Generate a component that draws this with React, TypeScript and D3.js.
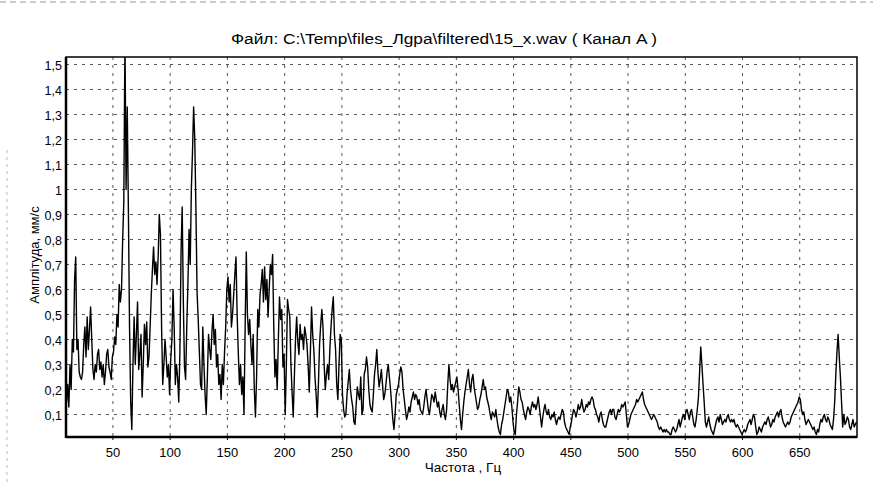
import * as d3 from 'd3';

// spectrum bins: START_HZ + i * STEP_HZ
const START_HZ = 9.5;
const STEP_HZ = 1;

const amp009 = [
  0.15, 0.22, 0.13, 0.30, 0.20, 0.40, 0.35, 0.64, 0.73, 0.36,
  0.40, 0.27, 0.25, 0.24, 0.27, 0.38, 0.45, 0.33, 0.49, 0.36,
  0.44, 0.53, 0.40, 0.28, 0.24, 0.30, 0.27, 0.34, 0.36, 0.28,
  0.31, 0.25, 0.30, 0.22, 0.27, 0.34, 0.36, 0.29, 0.27, 0.24,
  0.33, 0.35, 0.41, 0.38, 0.50, 0.45, 0.62, 0.55, 0.60, 0.80,
  0.95, 1.60, 1.00, 1.33, 0.92, 0.45, 0.15, 0.04, 0.30, 0.49,
  0.30, 0.42, 0.55, 0.28, 0.34, 0.42, 0.17, 0.30, 0.46, 0.38,
  0.47, 0.29, 0.33, 0.45, 0.58, 0.68, 0.77, 0.66, 0.71, 0.62,
  0.73, 0.90, 0.82, 0.45, 0.22, 0.30, 0.40, 0.33, 0.25, 0.30,
  0.18,
];
const amp100 = [
  0.32, 0.40, 0.60, 0.45, 0.22, 0.30, 0.25, 0.15, 0.35, 0.75,
  0.93, 0.55, 0.29, 0.24, 0.45, 0.62, 0.84, 0.70, 1.00, 1.15,
  1.33, 1.20, 0.92, 0.59, 0.48, 0.35, 0.22, 0.20, 0.45, 0.30,
  0.18, 0.10, 0.25, 0.42, 0.36, 0.32, 0.43, 0.50, 0.38, 0.44,
  0.29, 0.34, 0.22, 0.26, 0.16, 0.30, 0.22, 0.35, 0.45, 0.60,
  0.65, 0.55, 0.62, 0.45, 0.50, 0.58, 0.66, 0.73, 0.50, 0.35,
  0.22, 0.30, 0.18, 0.25, 0.10, 0.45, 0.75, 0.50, 0.42, 0.48,
  0.38, 0.30, 0.42, 0.20, 0.09, 0.25, 0.52, 0.45, 0.58, 0.62,
  0.68, 0.55, 0.69, 0.56, 0.64, 0.49, 0.60, 0.70, 0.66, 0.74,
  0.45, 0.25, 0.32, 0.20, 0.40, 0.57, 0.48, 0.52, 0.29, 0.34,
];
const amp200 = [
  0.10, 0.30, 0.56, 0.52, 0.49, 0.30, 0.19, 0.09, 0.25, 0.40,
  0.49, 0.39, 0.34, 0.46, 0.40, 0.42, 0.36, 0.45, 0.42, 0.38,
  0.30, 0.19, 0.35, 0.53, 0.42, 0.36, 0.25, 0.18, 0.09, 0.22,
  0.38, 0.46, 0.52, 0.45, 0.30, 0.20, 0.26, 0.30, 0.24, 0.36,
  0.45, 0.52, 0.57, 0.42, 0.36, 0.22, 0.16, 0.30, 0.42, 0.40,
  0.18, 0.12, 0.09, 0.10, 0.18, 0.23, 0.28, 0.20, 0.16, 0.13,
  0.07, 0.06, 0.14, 0.21, 0.18, 0.16, 0.25, 0.10, 0.12, 0.26,
  0.28, 0.33, 0.29, 0.20, 0.14, 0.12, 0.11, 0.18, 0.26, 0.30,
  0.36, 0.27, 0.21, 0.24, 0.28, 0.22, 0.16, 0.18, 0.22, 0.27,
  0.30, 0.25, 0.20, 0.14, 0.08, 0.04, 0.10, 0.18, 0.20, 0.22,
];
const amp300 = [
  0.26, 0.29, 0.27, 0.20, 0.16, 0.12, 0.08, 0.10, 0.13, 0.11,
  0.15, 0.17, 0.19, 0.16, 0.18, 0.17, 0.14, 0.16, 0.12, 0.11,
  0.10, 0.13, 0.17, 0.20, 0.16, 0.12, 0.10, 0.14, 0.18, 0.17,
  0.15, 0.19, 0.16, 0.13, 0.15, 0.11, 0.09, 0.12, 0.14, 0.10,
  0.08, 0.12, 0.22, 0.30, 0.24, 0.20, 0.22, 0.19, 0.21, 0.23,
  0.25, 0.20, 0.14, 0.08, 0.04, 0.10, 0.15, 0.19, 0.22, 0.25,
  0.28, 0.22, 0.19, 0.24, 0.26, 0.21, 0.18, 0.15, 0.12, 0.13,
  0.16, 0.18, 0.21, 0.24, 0.20, 0.21, 0.17, 0.15, 0.13, 0.10,
  0.08, 0.11, 0.10, 0.09, 0.12, 0.08, 0.05, 0.03, 0.02, 0.06,
  0.08, 0.11, 0.14, 0.17, 0.20, 0.19, 0.15, 0.17, 0.13, 0.07,
];
const amp400 = [
  0.03, 0.02, 0.10, 0.15, 0.21, 0.19, 0.16, 0.15, 0.12, 0.10,
  0.08, 0.11, 0.13, 0.12, 0.10, 0.13, 0.15, 0.13, 0.14, 0.12,
  0.14, 0.17, 0.13, 0.09, 0.05, 0.09, 0.12, 0.14, 0.11, 0.10,
  0.12, 0.09, 0.08, 0.10, 0.09, 0.11, 0.08, 0.06, 0.08, 0.09,
  0.08, 0.10, 0.12, 0.11, 0.07, 0.05, 0.04, 0.03, 0.02, 0.05,
  0.07, 0.10, 0.12, 0.11, 0.09, 0.11, 0.14, 0.12, 0.13, 0.16,
  0.13, 0.11, 0.12, 0.14, 0.13, 0.15, 0.14, 0.16, 0.17, 0.16,
  0.13, 0.12, 0.10, 0.09, 0.07, 0.10, 0.11, 0.08, 0.06, 0.05,
  0.05, 0.07, 0.09, 0.11, 0.12, 0.10, 0.12, 0.12, 0.09, 0.08,
  0.10, 0.12, 0.11, 0.12, 0.14, 0.13, 0.14, 0.15, 0.10, 0.05,
];
const amp500 = [
  0.06, 0.08, 0.10, 0.11, 0.12, 0.13, 0.14, 0.16, 0.15, 0.16,
  0.17, 0.18, 0.19, 0.16, 0.14, 0.13, 0.12, 0.11, 0.10, 0.09,
  0.08, 0.09, 0.10, 0.09, 0.08, 0.07, 0.05, 0.04, 0.05, 0.04,
  0.03, 0.04, 0.03, 0.04, 0.03, 0.03, 0.02, 0.02, 0.04, 0.05,
  0.04, 0.03, 0.04, 0.06, 0.08, 0.05, 0.07, 0.09, 0.10, 0.08,
  0.11, 0.12, 0.10, 0.08, 0.11, 0.12, 0.09, 0.06, 0.05, 0.08,
  0.12, 0.17, 0.27, 0.37, 0.30, 0.22, 0.15, 0.07, 0.05, 0.07,
  0.09, 0.06, 0.04, 0.03, 0.02, 0.04, 0.06, 0.08, 0.09, 0.07,
  0.10, 0.08, 0.06, 0.07, 0.08, 0.07, 0.09, 0.10, 0.08, 0.07,
  0.08, 0.07, 0.08, 0.06, 0.05, 0.06, 0.05, 0.04, 0.03, 0.02,
];
const amp600 = [
  0.03, 0.04, 0.03, 0.04, 0.06, 0.07, 0.08, 0.06, 0.08, 0.10,
  0.09, 0.05, 0.02, 0.03, 0.05, 0.04, 0.03, 0.05, 0.06, 0.07,
  0.06, 0.08, 0.09, 0.07, 0.05, 0.06, 0.08, 0.07, 0.09, 0.10,
  0.11, 0.09, 0.11, 0.12, 0.09, 0.07, 0.06, 0.05, 0.06, 0.07,
  0.06, 0.07, 0.09, 0.10, 0.11, 0.12, 0.13, 0.14, 0.15, 0.17,
  0.16, 0.12, 0.10, 0.11, 0.08, 0.06, 0.07, 0.08, 0.07, 0.06,
  0.05, 0.04, 0.05, 0.03, 0.02, 0.04, 0.03, 0.06, 0.08, 0.07,
  0.09, 0.10, 0.08, 0.07, 0.09, 0.08, 0.06, 0.05, 0.04, 0.08,
  0.15, 0.26, 0.35, 0.42, 0.33, 0.25, 0.15, 0.05, 0.10, 0.06,
  0.07, 0.09, 0.08, 0.05, 0.04, 0.06, 0.08, 0.05, 0.06, 0.07,
];

const xTicks = [50, 100, 150, 200, 250, 300, 350, 400, 450, 500, 550, 600, 650];
const yTicks = [0.1, 0.2, 0.3, 0.4, 0.5, 0.6, 0.7, 0.8, 0.9, 1.0, 1.1, 1.2, 1.3, 1.4, 1.5];

const TITLE = 'Файл: C:\\Temp\\files_Лgpa\\filtered\\15_x.wav ( Канал A )';
const X_LABEL = 'Частота , Гц';
const Y_LABEL = 'Амплітуда, мм/с';

const W = 873;
const H = 483;
const margin = { top: 57, right: 16, bottom: 46, left: 66 };
const FONT = '"Liberation Sans", Arial, sans-serif';

const amps = [...amp009, ...amp100, ...amp200, ...amp300, ...amp400, ...amp500, ...amp600];
const spectrum: [number, number][] = amps.map((a, i) => [START_HZ + i * STEP_HZ, a]);

const fmt = (v: number) => (v === 1 ? '1' : d3.format('.1f')(v).replace('.', ','));

export default function App() {
  const x = d3.scaleLinear().domain([9, 700]).range([margin.left, W - margin.right]);
  const y = d3.scaleLinear().domain([0.01, 1.53]).range([H - margin.bottom, margin.top]);
  const [x0, x1] = x.range();
  const [y0, y1] = y.range();

  const line = d3
    .line<[number, number]>()
    .x(d => x(d[0]))
    .y(d => y(d[1]));

  return (
    <svg
      width={W}
      height={H}
      style={{ position: 'absolute', left: 0, top: 0, background: '#fff' }}
      fontFamily={FONT}
    >
      <defs>
        <clipPath id="plot">
          <rect x={x0} y={y1} width={x1 - x0} height={y0 - y1} />
        </clipPath>
      </defs>

      {/* faint scan borders */}
      <line x1={0} x2={W} y1={2} y2={2} stroke="#999" strokeDasharray="6,4" />
      <line x1={7} x2={7} y1={150} y2={H} stroke="#bbb" strokeDasharray="3,4" />

      <text x={444} y={44} textAnchor="middle" fontSize={14} textLength={426} lengthAdjust="spacingAndGlyphs">
        {TITLE}
      </text>

      {/* grid */}
      <g stroke="#555" strokeWidth={1} strokeDasharray="3,5">
        {yTicks.map(t => (
          <line key={'gy' + t} x1={x0} x2={x1} y1={y(t)} y2={y(t)} />
        ))}
        {xTicks.map(t => (
          <line key={'gx' + t} x1={x(t)} x2={x(t)} y1={y1} y2={y0} />
        ))}
      </g>

      <path
        d={line(spectrum) ?? ''}
        fill="none"
        stroke="#000"
        strokeWidth={1.4}
        strokeLinejoin="round"
        clipPath="url(#plot)"
      />

      {/* frame */}
      <rect x={x0} y={y1} width={x1 - x0} height={y0 - y1} fill="none" stroke="#000" strokeWidth={1.5} />
      <line x1={x0} x2={x0} y1={y1} y2={y0 + 1} stroke="#000" strokeWidth={2.5} />
      <line x1={x0} x2={x1} y1={y0} y2={y0} stroke="#000" strokeWidth={2.5} />

      {/* y axis */}
      <g fontSize={12.5} textAnchor="end">
        {yTicks.map(t => (
          <text key={'ty' + t} x={x0 - 4} y={y(t) + 5}>
            {fmt(t)}
          </text>
        ))}
      </g>
      {/* x axis */}
      <g fontSize={13} textAnchor="middle">
        {xTicks.map(t => (
          <g key={'tx' + t}>
            <line x1={x(t)} x2={x(t)} y1={y0} y2={y0 + 3} stroke="#000" />
            <text x={x(t)} y={y0 + 20}>
              {t}
            </text>
          </g>
        ))}
      </g>

      <text x={463} y={472} textAnchor="middle" fontSize={13.5}>
        {X_LABEL}
      </text>
      <text
        transform={`translate(39,${(y0 + y1) / 2 + 8}) rotate(-90)`}
        textAnchor="middle"
        fontSize={13}
      >
        {Y_LABEL}
      </text>
    </svg>
  );
}
